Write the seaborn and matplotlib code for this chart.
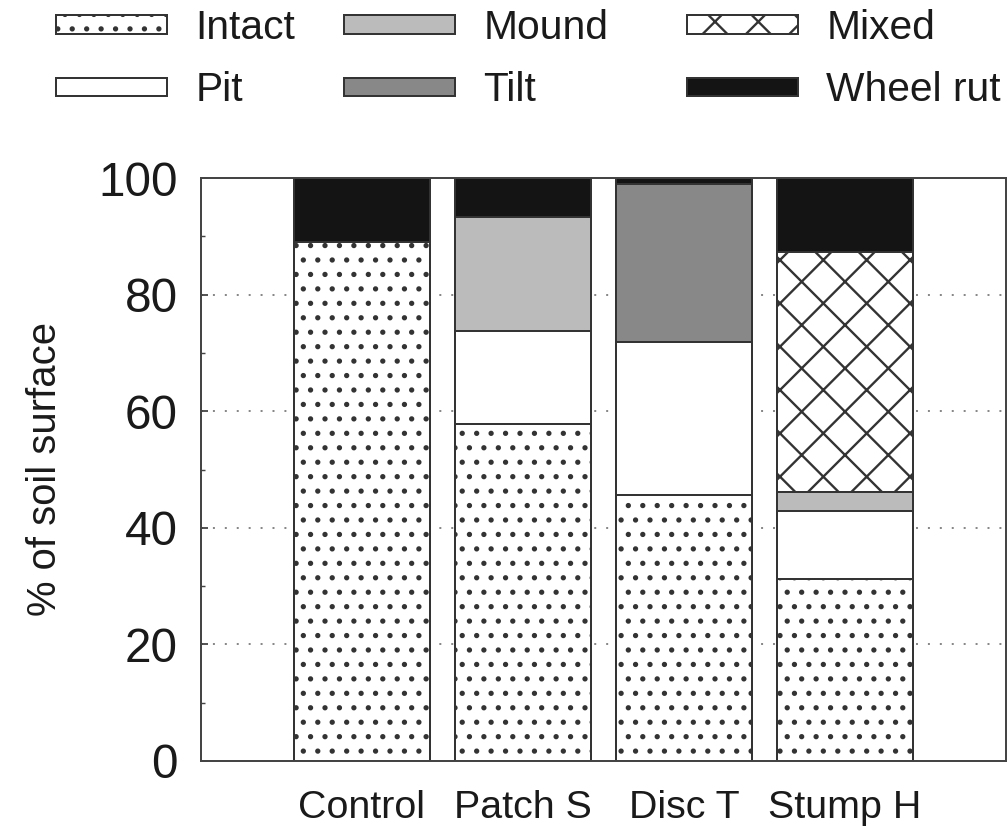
import matplotlib
matplotlib.use("Agg")
import matplotlib.pyplot as plt
import seaborn as sns
import numpy as np
from matplotlib.patches import Patch
from matplotlib.ticker import MultipleLocator

# ---- data ----
categories = ["Control", "Patch S", "Disc T", "Stump H"]
intact    = [89.0, 57.8, 45.6, 31.2]
pit       = [0.0, 16.0, 26.3, 11.7]
mound     = [0.0, 19.5, 0.0, 3.2]
tilt      = [0.0, 0.0, 27.1, 0.0]
mixed     = [0.0, 0.0, 0.0, 41.2]
wheel_rut = [11.0, 6.7, 1.0, 12.7]
layer_names = ["Intact", "Pit", "Mound", "Tilt", "Mixed", "Wheel rut"]
y_ticks = [0, 20, 40, 60, 80, 100]
y_label = "% of soil surface"

DPI = 260
W, H = 1007, 828

sns.set_theme(style="white")
plt.rcParams["font.family"] = ["Liberation Sans", "DejaVu Sans"]
plt.rcParams["hatch.linewidth"] = 0.65
plt.rcParams["hatch.color"] = "#111111"
TXT = "#1a1a1a"
plt.rcParams["text.color"] = TXT
plt.rcParams["axes.labelcolor"] = TXT
plt.rcParams["xtick.labelcolor"] = TXT
plt.rcParams["ytick.labelcolor"] = TXT

styles = {
    "Intact":    dict(facecolor="white",   hatch="..."),
    "Pit":       dict(facecolor="white",   hatch=None),
    "Mound":     dict(facecolor="#bbbbbb", hatch=None),
    "Tilt":      dict(facecolor="#888888", hatch=None),
    "Mixed":     dict(facecolor="white",   hatch="xx"),
    "Wheel rut": dict(facecolor="#141414", hatch=None),
}
EDGE = "#333333"
LW = 0.55

layers = [intact, pit, mound, tilt, mixed, wheel_rut]
cum = np.cumsum(np.array(layers), axis=0)

fig = plt.figure(figsize=(W / DPI, H / DPI), dpi=DPI)
ax = fig.add_axes([201 / W, 1 - 761 / H, (1006 - 201) / W, (761 - 178) / H])

# stacked bars: draw cumulative totals from the top layer downwards
for i in reversed(range(len(layers))):
    st = styles[layer_names[i]]
    sns.barplot(x=categories, y=cum[i], color=st["facecolor"], saturation=1,
                width=0.84, edgecolor=EDGE, linewidth=LW, hatch=st["hatch"],
                errorbar=None, ax=ax)

ax.set_xlim(-1, 4)
ax.set_ylim(0, 100)
ax.set_yticks(y_ticks)
ax.yaxis.set_minor_locator(MultipleLocator(10))
ax.tick_params(axis="y", which="major", direction="in", length=2, width=0.5,
               color="#444444", labelsize=13.2, pad=6.5, left=True, right=False)
ax.tick_params(axis="y", which="minor", direction="in", length=1.1, width=0.4,
               color="#444444", left=True, right=False)
ax.tick_params(axis="x", which="both", length=0, labelsize=10.9, pad=8)
ax.set_xlabel("")
ax.set_ylabel(y_label, fontsize=11.1, labelpad=9.5)
ax.yaxis.grid(True, linestyle=(0, (1, 5)), color="#888888", linewidth=0.55)
ax.xaxis.grid(False)
ax.set_axisbelow(True)
for s in ax.spines.values():
    s.set_visible(True)
    s.set_color("#444444")
    s.set_linewidth(0.55)

# legend: three columns of two entries
handles = [Patch(facecolor=styles[n]["facecolor"], hatch=styles[n]["hatch"],
                 edgecolor=EDGE, linewidth=LW, label=n) for n in layer_names]
col_x = [56, 344, 687]
for c in range(3):
    fig.legend(handles=handles[2 * c:2 * c + 2], loc="upper left",
               bbox_to_anchor=(col_x[c] / W, 1 - 9 / H), frameon=False,
               fontsize=11.3, handlelength=2.72, handleheight=0.32,
               handletextpad=0.69, labelspacing=0.6, borderpad=0,
               borderaxespad=0)

fig.savefig("out.png", dpi=DPI, facecolor="white")
